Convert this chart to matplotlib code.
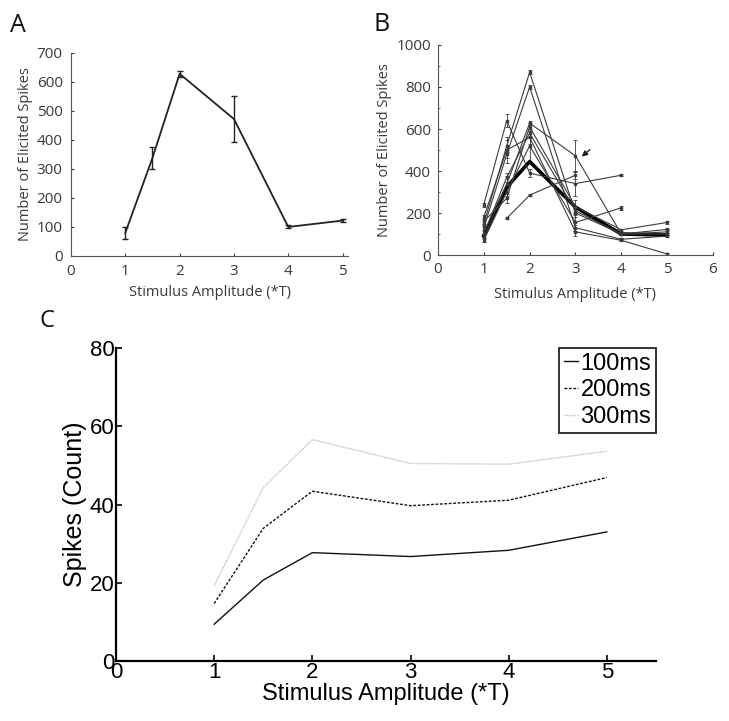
import matplotlib.pyplot as plt
import numpy as np

# Panel A: one cell, mean +/- error
ampA = [1, 1.5, 2, 3, 4, 5]
spikesA = [80, 338, 628, 472, 100, 122]
errA = [20, 37, 10, 78, 5, 4]

# Panel B: individual cells (nan = not recorded) and the population mean
ampB = [1, 1.5, 2, 3, 4, 5]
cellsB = [
    [80, 338, 628, 472, 100, 122],
    [150, 520, 870, 200, 100, 100],
    [130, 480, 800, 130, 75, 90],
    [240, 640, 390, 340, 380, np.nan],
    [np.nan, 175, 285, 380, np.nan, np.nan],
    [100, 370, 580, 210, 100, 110],
    [70, 300, 520, 155, 225, np.nan],
    [180, 500, 560, 110, 70, 5],
    [160, 270, 610, 230, 120, 155],
]
errsB = [
    [20, 37, 10, 78, 5, 4],
    [10, 30, 10, 20, 5, 5],
    [10, 20, 10, 15, 5, 5],
    [10, 30, 20, 60, 5, 0],
    [0, 5, 5, 20, 0, 0],
    [15, 20, 20, 20, 5, 5],
    [10, 20, 70, 40, 10, 0],
    [10, 60, 30, 20, 5, 5],
    [10, 20, 20, 30, 5, 5],
]
meanB = [92, 323, 445, 228, 100, 95]

# Panel C: stimulus duration comparison
ampC = [1, 1.5, 2, 3, 4, 5]
spikes100 = [9.4, 20.7, 27.7, 26.7, 28.3, 33.0]
spikes200 = [14.7, 33.9, 43.4, 39.7, 41.1, 46.9]
spikes300 = [19.2, 44.3, 56.6, 50.5, 50.3, 53.6]
labelsC = ['100ms', '200ms', '300ms']

plt.rcParams['font.family'] = ['Open Sans', 'DejaVu Sans']
txt = '#3a3a3a'

fig = plt.figure(figsize=(7.29, 7.21), dpi=100)

# ---- A ----
axA = fig.add_axes([0.0974, 0.645, 0.380, 0.2816])
axA.errorbar(ampA, spikesA, yerr=errA, color='#222222', lw=1.3,
             capsize=2.5, elinewidth=1.0, capthick=1.0)
axA.set_xlim(0, 5.1)
axA.set_ylim(0, 700)
axA.set_xticks([0, 1, 2, 3, 4, 5])
axA.set_yticks(range(0, 701, 100))
axA.set_xlabel('Stimulus Amplitude (*T)', fontsize=10.5, color=txt, labelpad=4)
axA.set_ylabel('Number of Elicited Spikes', fontsize=10.5, color=txt, labelpad=3)
axA.spines[['top', 'right']].set_visible(False)
for s in ['left', 'bottom']:
    axA.spines[s].set_color('#555555')
axA.tick_params(direction='in', length=2, labelsize=11, colors=txt, pad=6)
fig.text(0.014, 0.955, 'A', fontsize=18, color='#111111')

# ---- B ----
axB = fig.add_axes([0.6008, 0.6463, 0.3772, 0.2913])
for vals, errs in zip(cellsB, errsB):
    axB.errorbar(ampB, vals, yerr=errs, color='#3c3c3c', lw=0.8,
                 capsize=1.5, elinewidth=0.6, capthick=0.6,
                 marker='s', markersize=1.5)
axB.plot(ampB, meanB, color='black', lw=2.6)
axB.annotate('', xy=(3.09, 460), xytext=(3.36, 510),
             arrowprops=dict(arrowstyle='-|>', color='#222222', lw=1.0,
                             mutation_scale=8))
axB.set_xlim(0, 6)
axB.set_ylim(0, 1000)
axB.set_xticks(range(0, 7))
axB.set_yticks(range(0, 1001, 200))
axB.set_yticks(range(100, 1000, 200), minor=True)
axB.set_xlabel('Stimulus Amplitude (*T)', fontsize=10.5, color=txt, labelpad=7)
axB.set_ylabel('Number of Elicited Spikes', fontsize=10.5, color=txt, labelpad=3)
axB.spines[['top', 'right']].set_visible(False)
for s in ['left', 'bottom']:
    axB.spines[s].set_color('#555555')
axB.tick_params(direction='in', length=2.5, labelsize=11, colors=txt, pad=5)
axB.tick_params(which='minor', direction='in', length=1.5, colors='#555555')
fig.text(0.512, 0.957, 'B', fontsize=18, color='#111111')

# ---- C ----
narrow = ['Liberation Sans', 'DejaVu Sans']
axC = fig.add_axes([0.1591, 0.0832, 0.7407, 0.4341])
axC.plot(ampC, spikes100, color='#111111', lw=1.0, ls='-', label=labelsC[0])
axC.plot(ampC, spikes200, color='#111111', lw=1.0, ls=(0, (2, 1.2)), label=labelsC[1])
axC.plot(ampC, spikes300, color='#bdbdbd', lw=1.0, ls=(0, (1, 0.8)), label=labelsC[2])
axC.set_xlim(0, 5.5)
axC.set_ylim(0, 80)
axC.set_xticks([0, 1, 2, 3, 4, 5])
axC.set_yticks([0, 20, 40, 60, 80])
axC.spines[['top', 'right']].set_visible(False)
for s in ['left', 'bottom']:
    axC.spines[s].set_linewidth(1.6)
axC.tick_params(direction='in', length=4, width=1.2, labelsize=16, pad=1)
for lab in axC.get_xticklabels() + axC.get_yticklabels():
    lab.set_family(narrow)
axC.set_xlabel('Stimulus Amplitude (*T)', fontsize=17, family=narrow, labelpad=0)
axC.set_ylabel('Spikes (Count)', fontsize=18, family=narrow, labelpad=2)
leg = axC.legend(loc='upper right', bbox_to_anchor=(1.0, 1.0),
                 prop={'family': narrow, 'size': 17}, frameon=True, fancybox=False,
                 edgecolor='black', handlelength=0.6, handletextpad=0.1,
                 borderpad=0.2, labelspacing=0.2, borderaxespad=0)
leg.get_frame().set_linewidth(1.4)
fig.text(0.054, 0.547, 'C', fontsize=17, color='#111111')

fig.savefig('out.png', dpi=100)
